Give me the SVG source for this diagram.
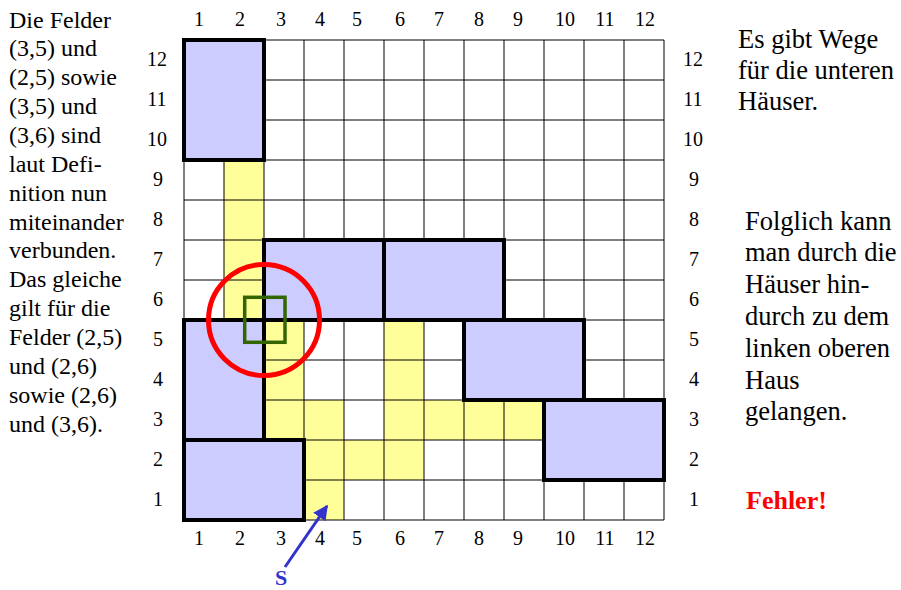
<svg xmlns="http://www.w3.org/2000/svg" width="901" height="590" viewBox="0 0 901 590">
<defs>
<style>
.txt{font-family:"Liberation Serif","Times New Roman",serif;fill:#000}
.lbl{font-family:"Liberation Serif","Times New Roman",serif;font-size:20px;fill:#000;text-anchor:middle}
.path{fill:#FFFF99;stroke:none}
.grid{stroke:#000;stroke-width:1;fill:none}
.house{fill:#CCCCFF;stroke:#000;stroke-width:4}
</style>
<marker id="ah" viewBox="0 0 10 10" refX="9" refY="5" markerWidth="5" markerHeight="5" orient="auto" markerUnits="strokeWidth">
<path d="M0,0 L10,5 L0,10 z" fill="#3333CC"/>
</marker>
</defs>
<rect width="901" height="590" fill="#fff"/>

<g id="path-cells">
<rect class="path" x="224" y="160" width="40" height="160"/>
<rect class="path" x="264" y="320" width="40" height="120"/>
<rect class="path" x="304" y="400" width="40" height="120"/>
<rect class="path" x="344" y="440" width="40" height="40"/>
<rect class="path" x="384" y="320" width="40" height="160"/>
<rect class="path" x="424" y="400" width="120" height="40"/>
</g>

<g id="grid" class="grid">
<path d="M184,40V520M224,40V520M264,40V520M304,40V520M344,40V520M384,40V520M424,40V520M464,40V520M504,40V520M544,40V520M584,40V520M624,40V520M664,40V520"/>
<path d="M184,40H664M184,80H664M184,120H664M184,160H664M184,200H664M184,240H664M184,280H664M184,320H664M184,360H664M184,400H664M184,440H664M184,480H664M184,520H664"/>
</g>

<g id="houses">
<rect id="house1" class="house" x="184" y="40" width="80" height="120"/>
<rect id="house2" class="house" x="264" y="240" width="120" height="80"/>
<rect id="house3" class="house" x="384" y="240" width="120" height="80"/>
<rect id="house4" class="house" x="464" y="320" width="120" height="80"/>
<rect id="house5" class="house" x="544" y="400" width="120" height="80"/>
<rect id="house6" class="house" x="184" y="320" width="80" height="120"/>
<rect id="house7" class="house" x="184" y="440" width="120" height="80"/>
</g>

<g id="highlight">
<circle cx="264" cy="320" r="55.5" fill="none" stroke="#FF0000" stroke-width="5"/>
<rect x="244.7" y="297.3" width="40.3" height="45" fill="none" stroke="#336600" stroke-width="3.5"/>
</g>

<g id="connectors">
<line x1="285" y1="567" x2="327" y2="506" stroke="#3333CC" stroke-width="3" marker-end="url(#ah)"/>
</g>
<g id="start">
<text class="txt" x="275" y="585" font-size="22" font-weight="bold" style="fill:#3333CC">S</text>
</g>

<g id="axis-top">
<text class="lbl" x="199" y="26">1</text>
<text class="lbl" x="240" y="26">2</text>
<text class="lbl" x="281" y="26">3</text>
<text class="lbl" x="320" y="26">4</text>
<text class="lbl" x="357" y="26">5</text>
<text class="lbl" x="400" y="26">6</text>
<text class="lbl" x="439" y="26">7</text>
<text class="lbl" x="479" y="26">8</text>
<text class="lbl" x="518" y="26">9</text>
<text class="lbl" x="565" y="26">10</text>
<text class="lbl" x="605" y="26">11</text>
<text class="lbl" x="645" y="26">12</text>
</g>
<g id="axis-bottom">
<text class="lbl" x="199" y="545">1</text>
<text class="lbl" x="240" y="545">2</text>
<text class="lbl" x="281" y="545">3</text>
<text class="lbl" x="320" y="545">4</text>
<text class="lbl" x="357" y="545">5</text>
<text class="lbl" x="400" y="545">6</text>
<text class="lbl" x="439" y="545">7</text>
<text class="lbl" x="479" y="545">8</text>
<text class="lbl" x="518" y="545">9</text>
<text class="lbl" x="565" y="545">10</text>
<text class="lbl" x="605" y="545">11</text>
<text class="lbl" x="645" y="545">12</text>
</g>
<g id="axis-left">
<text class="lbl" x="157" y="66">12</text>
<text class="lbl" x="157" y="106">11</text>
<text class="lbl" x="157" y="146">10</text>
<text class="lbl" x="158" y="186">9</text>
<text class="lbl" x="158" y="226">8</text>
<text class="lbl" x="158" y="266">7</text>
<text class="lbl" x="158" y="306">6</text>
<text class="lbl" x="158" y="346">5</text>
<text class="lbl" x="158" y="386">4</text>
<text class="lbl" x="158" y="426">3</text>
<text class="lbl" x="158" y="466">2</text>
<text class="lbl" x="158" y="506">1</text>
</g>
<g id="axis-right">
<text class="lbl" x="693" y="66">12</text>
<text class="lbl" x="693" y="106">11</text>
<text class="lbl" x="693" y="146">10</text>
<text class="lbl" x="694" y="186">9</text>
<text class="lbl" x="694" y="226">8</text>
<text class="lbl" x="694" y="266">7</text>
<text class="lbl" x="694" y="306">6</text>
<text class="lbl" x="694" y="346">5</text>
<text class="lbl" x="694" y="386">4</text>
<text class="lbl" x="694" y="426">3</text>
<text class="lbl" x="694" y="466">2</text>
<text class="lbl" x="694" y="506">1</text>
</g>

<g id="note-left">
<text class="txt" font-size="24">
<tspan x="9" y="27.5">Die Felder</tspan>
<tspan x="9" dy="28.86">(3,5) und</tspan>
<tspan x="9" dy="28.86">(2,5) sowie</tspan>
<tspan x="9" dy="28.86">(3,5) und</tspan>
<tspan x="9" dy="28.86">(3,6) sind</tspan>
<tspan x="9" dy="28.86">laut Defi-</tspan>
<tspan x="9" dy="28.86">nition nun</tspan>
<tspan x="9" dy="28.86">miteinander</tspan>
<tspan x="9" dy="28.86">verbunden.</tspan>
<tspan x="9" dy="28.86">Das gleiche</tspan>
<tspan x="9" dy="28.86">gilt für die</tspan>
<tspan x="9" dy="28.86">Felder (2,5)</tspan>
<tspan x="9" dy="28.86">und (2,6)</tspan>
<tspan x="9" dy="28.86">sowie (2,6)</tspan>
<tspan x="9" dy="28.86">und (3,6).</tspan>
</text>
</g>
<g id="note-right-top">
<text class="txt" font-size="26.5">
<tspan x="738" y="48">Es gibt Wege</tspan>
<tspan x="738" dy="31">für die unteren</tspan>
<tspan x="738" dy="31">Häuser.</tspan>
</text>
</g>
<g id="note-right-mid">
<text class="txt" font-size="26.5">
<tspan x="745" y="229.5">Folglich kann</tspan>
<tspan x="745" dy="31.8">man durch die</tspan>
<tspan x="745" dy="31.8">Häuser hin-</tspan>
<tspan x="745" dy="31.8">durch zu dem</tspan>
<tspan x="745" dy="31.8">linken oberen</tspan>
<tspan x="745" dy="31.8">Haus</tspan>
<tspan x="745" dy="31.8">gelangen.</tspan>
</text>
</g>
<g id="note-error">
<text class="txt" x="746" y="509" font-size="26" font-weight="bold" style="fill:#FF0000">Fehler!</text>
</g>
</svg>
